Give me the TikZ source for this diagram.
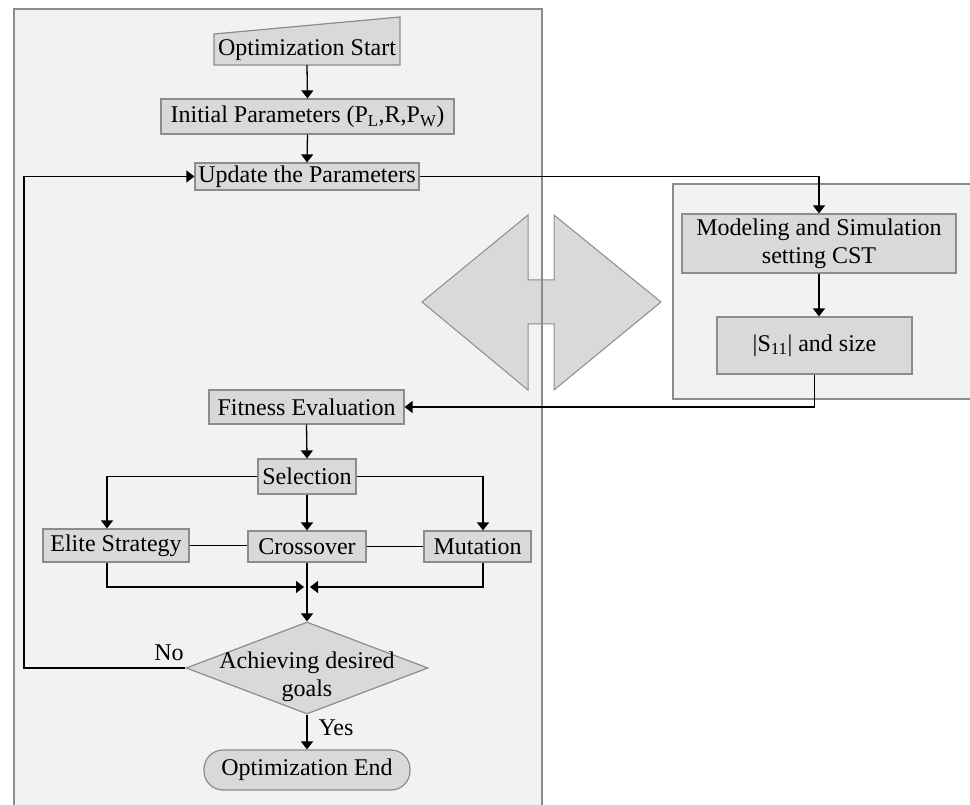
\documentclass[tikz,border=0pt]{standalone}
\usepackage{fontspec}
\setmainfont{Liberation Serif}
\usetikzlibrary{arrows.meta, calc, shapes.geometric}
\definecolor{panelgray}{HTML}{F2F2F2}
\definecolor{boxgray}{HTML}{D9D9D9}
\definecolor{edgegray}{HTML}{8C8C8C}

\begin{document}
\begin{tikzpicture}[x=1pt, y=-1pt,
    every node/.style={font=\fontsize{24}{28}\selectfont},
    box/.style={draw=edgegray, fill=boxgray, line width=1.2pt, inner sep=0pt, align=center},
    arr/.style={line width=1.3pt, -{Triangle[width=12pt,length=8pt]}},
    link/.style={line width=1.3pt}]

    \useasboundingbox (0,0) rectangle (970,805);

    % Panels
    \fill[panelgray] (14,9) rectangle (542,815);
    \fill[panelgray] (673,184) rectangle (980,399);

    % Double arrow between the panels
    \draw[fill=boxgray, draw=edgegray, line width=1pt]
        (422,302) -- (528,215) -- (528,280) -- (554,280) -- (554,215) -- (661,302)
        -- (554,390) -- (554,324) -- (528,324) -- (528,390) -- cycle;

    % Panel borders
    \draw[edgegray, line width=1.2pt] (14,815) -- (14,9) -- (542,9) -- (542,815);
    \draw[edgegray, line width=1.2pt] (980,184) -- (673,184) -- (673,399) -- (980,399);

    % Start (manual input shape)
    \draw[box] (214,65) -- (400,65) -- (400,17) -- (214,34) -- cycle;
    \node[minimum width=186pt, minimum height=30pt, inner sep=0pt] (start) at (307,50) {Optimization Start};

    % Boxes
    \node[box, minimum width=293pt, minimum height=35pt] (init) at (307.5,116.5)
        {Initial Parameters (P\textsubscript{L},R,P\textsubscript{W})};
    \node[box, minimum width=224pt, minimum height=27pt] (update) at (307,176.5) {Update the Parameters};
    \node[box, minimum width=274pt, minimum height=59pt] (model) at (819,243.5)
        {Modeling and Simulation\\setting CST};
    \node[box, minimum width=195pt, minimum height=57pt] (s11) at (814.5,345.5) {|S\textsubscript{11}| and size};
    \node[box, minimum width=195pt, minimum height=34pt] (fitness) at (306.5,407) {Fitness Evaluation};
    \node[box, minimum width=98pt, minimum height=35pt] (select) at (307,476.5) {Selection};
    \node[box, minimum width=146pt, minimum height=33pt] (elite) at (116,545.5) {Elite Strategy};
    \node[box, minimum width=118pt, minimum height=31pt] (cross) at (307,546.5) {Crossover};
    \node[box, minimum width=107pt, minimum height=31pt] (mutate) at (477.5,546.5) {Mutation};

    % Decision and end
    \node[box, shape=diamond, minimum width=242pt, minimum height=92pt] (goal) at (307,668) {};
    \node[align=center, inner sep=0pt] (goaltext) at (307,677) {Achieving desired\\goals};
    \node[box, rounded corners=19pt, minimum width=206pt, minimum height=40pt] (finish) at (307,770) {Optimization End};

    % Connectors
    \draw[arr] (start.south) -- (init.north);
    \draw[arr] (init.south) -- (update.north);
    \draw[arr] (update.east) -| (model.north);
    \draw[arr] (model.south) -- (model.south |- s11.north);
    \draw[arr] (s11.south) |- (fitness.east);
    \draw[arr] (fitness.south) -- (select.north);
    \draw[arr] (select.west) -| ([xshift=-9pt]elite.north);
    \draw[arr] (select.east) -| ([xshift=5.5pt]mutate.north);
    \draw[arr] (select.south) -- (cross.north);
    \draw[link] (elite.east) -- (elite.east -| cross.west);
    \draw[link] (cross.east) -- (mutate.west);

    % Merge into the decision
    \coordinate (join) at (307,587);
    \draw[arr] ([xshift=-9pt]elite.south) |- ([xshift=-3pt]join);
    \draw[arr] ([xshift=5.5pt]mutate.south) |- ([xshift=3pt]join);
    \draw[arr] (cross.south) -- (goal.north);

    % Loop back and exit
    \coordinate (loop) at (24,668);
    \draw[arr] (goal.west) -- (loop) |- (update.west);
    \draw[arr] (goal.south) -- (finish.north);
    \node (no) at (169,653) {No};
    \node (yes) at (336,728) {Yes};

\end{tikzpicture}
\end{document}
